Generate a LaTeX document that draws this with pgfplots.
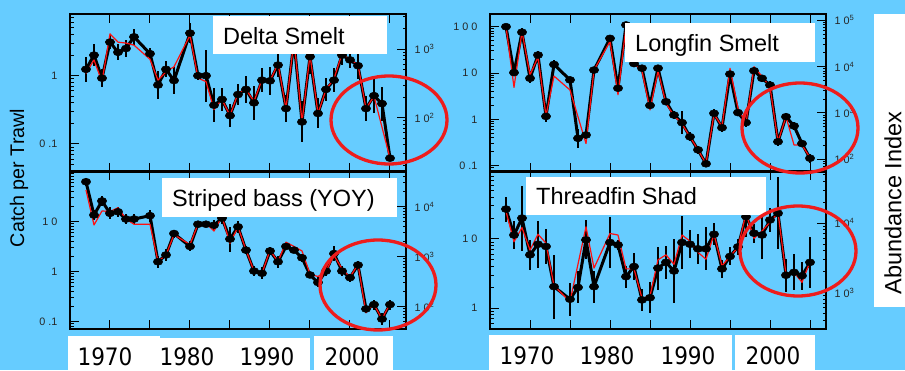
\documentclass[border=0pt]{standalone}
\usepackage{pgfplots}
\pgfplotsset{compat=1.18}
\usepackage{pgfplotstable}
\usepackage{fontspec}
\setmainfont{Liberation Sans}
\newfontfamily\yearfont{DejaVu Sans}[FakeStretch=0.9]
\definecolor{bg}{HTML}{66CCFF}
\definecolor{ellred}{HTML}{EE1C1C}
\definecolor{lnred}{HTML}{FF1010}

% ---------- Delta smelt ----------
\pgfplotstableread{
yr v e
1967 1.24 0.18
1968 2.0 0.16
1969 0.92 0.13
1970 3.1 0.10
1971 2.2 0.12
1972 2.5 0.12
1973 3.7 0.12
1975 2.1 0.08
1976 0.73 0.2
1977 1.24 0.12
1978 0.85 0.2
1980 4.2 0.15
1981 1.0 0.06
1982 1.0 0.38
1983 0.37 0.25
1984 0.45 0.17
1985 0.26 0.17
1986 0.53 0.16
1987 0.63 0.2
1988 0.40 0.25
1989 0.86 0.18
1990 0.84 0.2
1991 1.43 0.18
1992 0.33 0.2
1993 3.2 0.2
1994 0.21 0.3
1995 1.9 0.25
1996 0.28 0.22
1997 0.63 0.17
1998 0.86 0.18
1999 2.0 0.15
2000 1.7 0.12
2001 1.4 0.2
2002 0.33 0.18
2003 0.51 0.25
2004 0.39 0.25
2005 0.062 0.03
}\dsb
\pgfplotstableread{
yr v
1967 1.08
1968 1.7
1969 0.82
1970 4.1
1971 3.1
1972 3.0
1973 2.8
1975 1.74
1976 0.86
1977 1.14
1978 1.35
1980 3.9
1981 0.92
1982 0.82
1983 0.32
1984 0.45
1985 0.26
1986 0.55
1987 0.63
1988 0.42
1989 0.88
1990 0.84
1991 1.5
1992 0.33
1993 3.4
1994 0.21
1995 2.0
1996 0.28
1997 0.63
1998 0.9
1999 2.1
2000 1.7
2001 1.45
2002 0.33
2003 0.5
2005 0.062
}\dsr

% ---------- Longfin smelt ----------
\pgfplotstableread{
yr v e
1967 100 0.05
1968 10.2 0.06
1969 76 0.1
1970 7.7 0.1
1971 24.5 0.08
1972 1.16 0.12
1973 15.3 0.1
1975 7.1 0.06
1976 0.39 0.2
1977 0.46 0.08
1978 11.6 0.06
1980 56 0.06
1981 4.7 0.08
1982 109 0.05
1983 16 0.05
1984 12.7 0.05
1985 2.0 0.08
1986 12.7 0.08
1987 2.4 0.05
1988 1.24 0.08
1989 0.85 0.25
1990 0.42 0.1
1991 0.22 0.08
1992 0.11 0.06
1993 1.35 0.1
1994 0.66 0.1
1995 9.5 0.06
1996 1.4 0.08
1997 0.85 0.1
1998 11.2 0.08
1999 7.7 0.08
2000 5.5 0.08
2001 0.33 0.1
2002 1.14 0.08
2003 0.72 0.08
2004 0.30 0.06
2005 0.145 0.1
}\lfb
\pgfplotstableread{
yr v
1967 100
1968 4.9
1969 78
1970 9.1
1971 22
1972 1.2
1973 8.6
1975 4.3
1977 0.30
1978 11.6
1980 48
1981 3.4
1982 100
1983 16
1984 11
1985 1.6
1986 11
1987 2.2
1988 1.2
1989 0.8
1990 0.42
1991 0.22
1992 0.11
1993 1.3
1994 0.7
1995 12.7
1996 1.74
1997 0.8
1998 13.7
1999 8.5
2000 5.0
2001 0.33
2002 1.14
2003 0.28
2004 0.28
2005 0.15
}\lfr

% ---------- Striped bass ----------
\pgfplotstableread{
yr v e
1967 63 0.08
1968 13.6 0.1
1969 26 0.1
1970 14.7 0.12
1971 15.8 0.1
1972 11.3 0.1
1973 11.3 0.1
1975 13.2 0.12
1976 1.58 0.12
1977 2.16 0.12
1978 5.8 0.08
1980 3.2 0.1
1981 8.9 0.06
1982 8.9 0.06
1983 8.5 0.1
1984 11.8 0.12
1985 4.5 0.25
1986 7.9 0.12
1987 2.7 0.08
1988 1.03 0.1
1989 0.93 0.12
1990 2.6 0.08
1991 1.58 0.12
1992 3.2 0.06
1993 2.7 0.06
1994 1.9 0.08
1995 0.86 0.06
1996 0.61 0.1
1997 1.03 0.1
1998 2.3 0.15
1999 1.03 0.1
2000 0.76 0.08
2001 1.36 0.08
2002 0.18 0.08
2003 0.22 0.1
2004 0.113 0.12
2005 0.22 0.1
}\sbb
\pgfplotstableread{
yr v
1967 43
1968 8.6
1969 16.4
1970 16
1971 19
1972 11.3
1973 8.9
1975 8.9
1976 1.6
1977 2.16
1978 5.5
1980 3.5
1981 8.9
1982 9.3
1983 6.5
1984 12.6
1985 3.7
1986 7.9
1987 2.7
1988 1.03
1989 0.93
1990 2.7
1991 1.58
1992 3.9
1993 3.2
1994 2.6
1995 0.9
1996 0.8
1997 1.03
1998 2.1
1999 1.15
2000 0.78
2001 1.4
2002 0.15
2003 0.22
2004 0.113
2005 0.23
}\sbr

% ---------- Threadfin shad ----------
\pgfplotstableread{
yr v e
1967 27 0.18
1968 11.4 0.2
1969 20 0.47
1970 5.9 0.22
1971 8.4 0.34
1972 7.8 0.25
1973 2.05 0.46
1975 1.35 0.24
1976 2.0 0.23
1977 9.7 0.28
1978 2.05 0.23
1980 8.9 0.37
1981 8.2 0.07
1982 2.86 0.16
1983 4.0 0.19
1984 1.32 0.16
1985 1.42 0.22
1986 3.8 0.31
1987 4.6 0.24
1988 3.45 0.46
1989 8.9 0.38
1990 8.4 0.2
1991 7.2 0.22
1992 7.2 0.31
1993 11.7 0.16
1994 3.7 0.13
1995 5.6 0.13
1996 7.7 0.12
1997 21 0.29
1998 12.1 0.14
1999 11.4 0.34
2000 18.8 0.17
2001 23.5 0.52
2002 3.0 0.24
2003 3.3 0.26
2004 2.95 0.2
2005 4.6 0.37
}\tsb
\pgfplotstableread{
yr v
1967 25
1968 9.1
1969 14.6
1970 6.9
1971 11.7
1972 8.7
1973 2.1
1975 1.25
1977 15
1978 3.8
1980 12
1981 11.4
1982 3.7
1983 3.7
1984 1.4
1985 1.5
1986 5.0
1987 5.9
1988 4.3
1989 11.4
1990 9.3
1991 6.4
1992 5.1
1993 11.7
1994 4.1
1995 5.6
1996 7.6
1997 23.5
1998 10.2
1999 13
2000 17.5
2001 24
2002 3.1
2003 3.3
2004 2.37
2005 4.7
}\tsr

\pgfplotsset{
  mycommon/.style={scale only axis, width=336pt, height=158pt, anchor=south west,
    xmin=1965, xmax=2007,
    axis line style={line width=1.3pt, black},
    every tick/.append style={black, line width=1pt},
    tick align=inside, major tick length=9pt, minor tick length=3.5pt,
    yticklabel style={font=\fontsize{10.8}{12}\selectfont, text=black!85}},
  mypanel/.style={mycommon,
    xtick={1970,1975,...,2005}, xticklabels={}, xtick pos=both, ytick pos=left,
    yticklabel style={xshift=-9pt},
    minor ytick={0.02,0.03,0.04,0.05,0.06,0.07,0.08,0.09,0.2,0.3,0.4,0.5,0.6,0.7,0.8,0.9,2,3,4,5,6,7,8,9,20,30,40,50,60,70,80,90},
    clip=true},
  myrpanel/.style={mycommon, axis x line=none, axis y line*=right,
    yticklabel style={xshift=5pt},
    minor ytick={20,30,40,50,60,70,80,90,200,300,400,500,600,700,800,900,2000,3000,4000,5000,6000,7000,8000,9000,20000,30000,40000,50000,60000,70000,80000,90000}},
}
\newcommand{\blkplot}[1]{\addplot[black, line width=3pt, line join=round, mark=*, mark size=3.5pt,
    mark options={xscale=1.35, line width=0.5pt},
    error bars/.cd, y dir=both, y explicit, error mark=none,
    error bar style={line width=2.4pt, black}] table[x=yr, y=v,
  y error plus expr={\thisrow{v}*(10^(\thisrow{e})-1)},
  y error minus expr={\thisrow{v}*(1-10^(-\thisrow{e}))}] {#1};}
\newcommand{\rdplot}[1]{\addplot[lnred, line width=1.2pt, line join=round, no marks] table[x=yr, y=v] {#1};}
\newcommand{\tfont}{\fontsize{23.5}{28}\selectfont}
\newcommand{\yfont}{\yearfont\fontsize{24}{28}\selectfont}

\begin{document}
\begin{tikzpicture}
\fill[bg] (0pt,0pt) rectangle (905pt,370pt);
\useasboundingbox (0pt,0pt) rectangle (905pt,370pt);

% ===== Top-left: Delta smelt =====
\begin{semilogyaxis}[mypanel, at={(70pt,198pt)}, ymin=0.0389, ymax=8.0,
  ytick={0.1,1}, yticklabels={0 .1,1}]
\blkplot{\dsb}
\rdplot{\dsr}
\end{semilogyaxis}
\begin{semilogyaxis}[myrpanel, at={(70pt,198pt)}, ymin=16.03, ymax=3296,
  ytick={100,1000}, yticklabels={1 0\textsuperscript{2},1 0\textsuperscript{3}}]
\end{semilogyaxis}

% ===== Top-right: Longfin smelt =====
\begin{semilogyaxis}[mypanel, at={(490pt,198pt)}, ymin=0.0731, ymax=187.9,
  ytick={0.1,1,10,100}, yticklabels={0 .1,1,1 0,1 0 0}]
\blkplot{\lfb}
\rdplot{\lfr}
\end{semilogyaxis}
\begin{semilogyaxis}[myrpanel, at={(490pt,198pt)}, ymin=53.2, ymax=136770,
  ytick={100,1000,10000,100000},
  yticklabels={1 0\textsuperscript{2},1 0\textsuperscript{3},1 0\textsuperscript{4},1 0\textsuperscript{5}}]
\end{semilogyaxis}

% ===== Bottom-left: Striped bass =====
\begin{semilogyaxis}[mypanel, at={(70pt,41pt)}, ymin=0.0714, ymax=103.3,
  ytick={0.1,1,10}, yticklabels={0 .1,1,1 0}]
\blkplot{\sbb}
\rdplot{\sbr}
\end{semilogyaxis}
\begin{semilogyaxis}[myrpanel, at={(70pt,41pt)}, ymin=35.8, ymax=51760,
  ytick={100,1000,10000},
  yticklabels={1 0\textsuperscript{2},1 0\textsuperscript{3},1 0\textsuperscript{4}}]
\end{semilogyaxis}

% ===== Bottom-right: Threadfin shad =====
\begin{semilogyaxis}[mypanel, at={(490pt,41pt)}, ymin=0.502, ymax=95.7,
  ytick={1,10}, yticklabels={1,1 0}]
\blkplot{\tsb}
\rdplot{\tsr}
\end{semilogyaxis}
\begin{semilogyaxis}[myrpanel, at={(490pt,41pt)}, ymin=297.9, ymax=56750,
  ytick={1000,10000},
  yticklabels={1 0\textsuperscript{3},1 0\textsuperscript{4}}]
\end{semilogyaxis}

% ===== Title boxes =====
\fill[white] (213pt,316pt) rectangle (387pt,354pt);
\node[anchor=base west, inner sep=0pt] at (223pt,325pt) {\tfont Delta Smelt};
\fill[white] (625pt,308pt) rectangle (815pt,347pt);
\node[anchor=base west, inner sep=0pt] at (635pt,318.3pt) {\tfont Longfin Smelt};
\fill[white] (162pt,153pt) rectangle (397pt,192pt);
\node[anchor=base west, inner sep=0pt] at (172pt,163.3pt) {\tfont Striped bass (YOY)};
\fill[white] (526pt,155pt) rectangle (766pt,193pt);
\node[anchor=base west, inner sep=0pt] at (536pt,165pt) {\tfont Threadfin Shad};

% ===== Year boxes =====
\fill[white] (68pt,0pt) rectangle (160pt,34pt);
\fill[white] (160pt,0pt) rectangle (310pt,32pt);
\fill[white] (314pt,0pt) rectangle (393pt,34pt);
\fill[white] (489pt,0pt) rectangle (580pt,35pt);
\fill[white] (580pt,0pt) rectangle (732pt,35pt);
\fill[white] (735pt,0pt) rectangle (815pt,35pt);
\node[anchor=base, inner sep=0pt] at (105pt,5pt) {\yfont 1970};
\node[anchor=base, inner sep=0pt] at (187pt,5pt) {\yfont 1980};
\node[anchor=base, inner sep=0pt] at (267pt,5pt) {\yfont 1990};
\node[anchor=base, inner sep=0pt] at (352pt,5pt) {\yfont 2000};
\node[anchor=base, inner sep=0pt] at (527pt,6pt) {\yfont 1970};
\node[anchor=base, inner sep=0pt] at (607pt,6pt) {\yfont 1980};
\node[anchor=base, inner sep=0pt] at (688pt,6pt) {\yfont 1990};
\node[anchor=base, inner sep=0pt] at (773pt,6pt) {\yfont 2000};

% ===== Axis titles =====
\node[rotate=90, inner sep=0pt] at (19pt,192pt) {\fontsize{19.7}{24}\selectfont Catch per Trawl};
\fill[white] (874pt,63pt) rectangle (905pt,356pt);
\node[rotate=90, inner sep=0pt] at (893pt,167pt) {\tfont Abundance Index};

% ===== Red ellipses =====
\draw[ellred, line width=3.3pt] (389pt,250pt) ellipse [x radius=58pt, y radius=44pt];
\draw[ellred, line width=3.3pt] (800pt,242pt) ellipse [x radius=58pt, y radius=45pt];
\draw[ellred, line width=3.3pt] (378pt,85pt) ellipse [x radius=58pt, y radius=45pt];
\draw[ellred, line width=3.3pt] (798pt,119pt) ellipse [x radius=58pt, y radius=45pt];
\end{tikzpicture}
\end{document}
